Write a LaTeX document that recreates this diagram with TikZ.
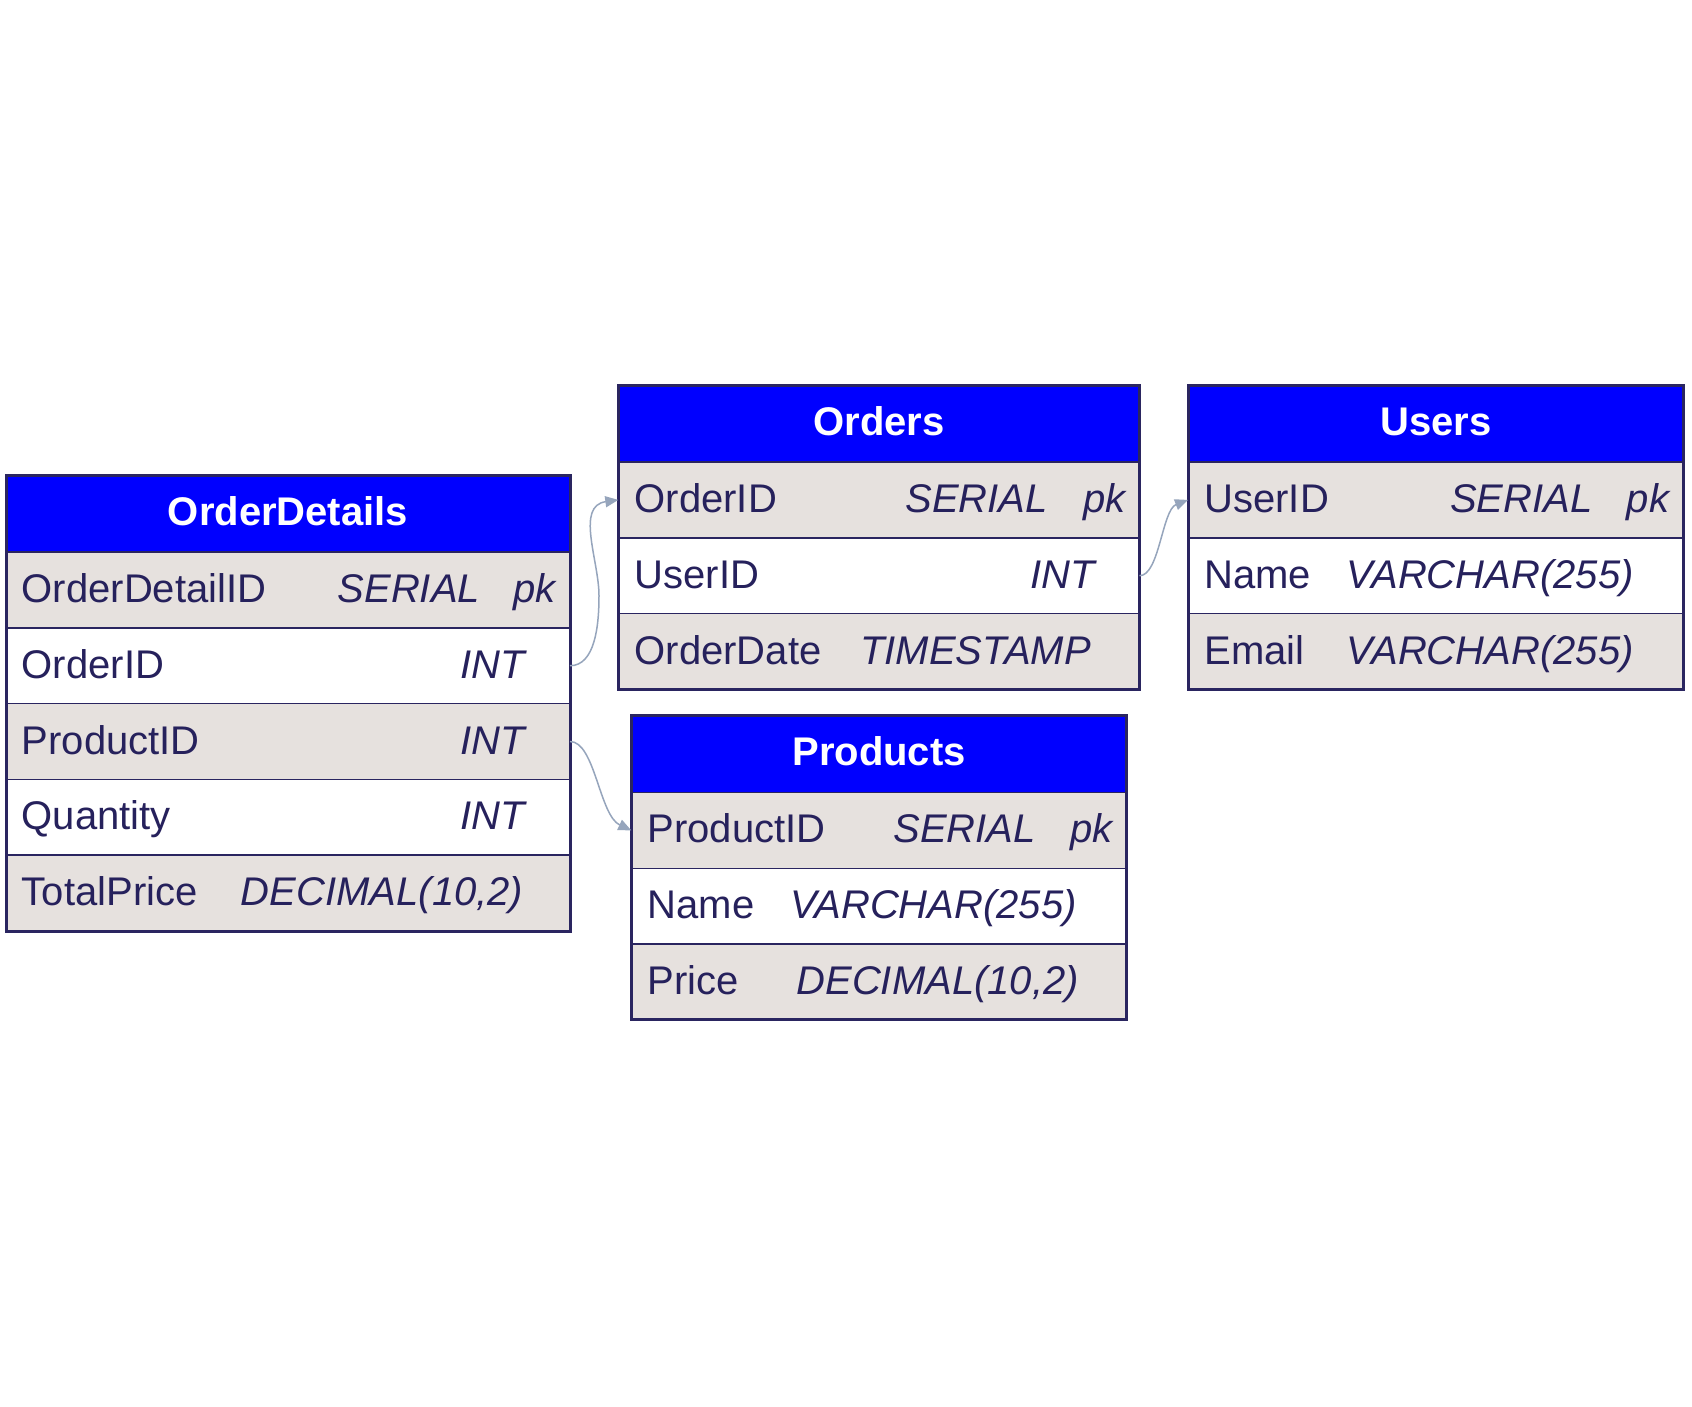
\documentclass[tikz,border=0pt]{standalone}
\usepackage{fontspec}
\setmainfont{Liberation Sans}
\usetikzlibrary{arrows.meta}
\definecolor{navy}{RGB}{38,33,92}
\definecolor{bordc}{RGB}{42,37,96}
\definecolor{rowgray}{RGB}{230,225,222}
\definecolor{hdrblue}{RGB}{0,0,255}
\definecolor{connc}{RGB}{150,165,188}
\begin{document}
\begin{tikzpicture}[x=1pt,y=-1pt,
  hdr/.style={fill=hdrblue,draw=bordc,line width=1.5pt,inner sep=0pt,outer sep=0pt,anchor=north west,minimum height=77pt},
  rowg/.style={fill=rowgray,draw=bordc,line width=1.5pt,inner sep=0pt,outer sep=0pt,anchor=north west,minimum height=75.8pt},
  roww/.style={fill=white,draw=bordc,line width=1.5pt,inner sep=0pt,outer sep=0pt,anchor=north west,minimum height=75.8pt},
  outer/.style={draw=bordc,line width=3pt},
  ttl/.style={text=white,font=\fontsize{40}{48}\selectfont\bfseries,inner sep=0pt,anchor=base},
  fname/.style={text=navy,font=\fontsize{40}{48}\selectfont,inner sep=0pt,anchor=base west},
  ftype/.style={text=navy,font=\fontsize{40}{48}\selectfont\itshape,inner sep=0pt,anchor=base east},
  conn/.style={draw=connc,line width=1.5pt,-{Triangle[length=13pt,width=11pt]}}]
\useasboundingbox (0,0) rectangle (1692,1406);
\fill[white] (0,0) rectangle (1692,1406);

% ---------- OrderDetails ----------
\node[hdr,minimum width=563.5pt] (od-h) at (6.5,475) {};
\node[rowg,minimum width=563.5pt] (od-1) at (6.5,552) {};
\node[roww,minimum width=563.5pt] (od-2) at (6.5,627.8) {};
\node[rowg,minimum width=563.5pt] (od-3) at (6.5,703.6) {};
\node[roww,minimum width=563.5pt] (od-4) at (6.5,779.4) {};
\node[rowg,minimum width=563.5pt] (od-5) at (6.5,855.2) {};
\draw[outer] (od-h.north west) rectangle (od-5.south east);
\node[ttl] (od-t) at (288,525) {OrderDetails};
\node[fname] (od-1n) at (21.6,602.4) {OrderDetailID};
\node[ftype] (od-1t) at (480.2,602.4) {SERIAL};
\node[ftype] (od-1k) at (555.7,602.4) {pk};
\node[fname] (od-2n) at (21.6,678.2) {OrderID};
\node[ftype] (od-2t) at (525.5,678.2) {INT};
\node[fname] (od-3n) at (21.6,754) {ProductID};
\node[ftype] (od-3t) at (525.5,754) {INT};
\node[fname] (od-4n) at (21.6,829.8) {Quantity};
\node[ftype] (od-4t) at (525.5,829.8) {INT};
\node[fname] (od-5n) at (21.6,905.6) {TotalPrice};
\node[ftype] (od-5t) at (523.4,905.6) {DECIMAL(10,2)};

% ---------- Orders ----------
\node[hdr,minimum width=521.2pt] (o-h) at (618.3,385) {};
\node[rowg,minimum width=521.2pt] (o-1) at (618.3,462) {};
\node[roww,minimum width=521.2pt] (o-2) at (618.3,537.8) {};
\node[rowg,minimum width=521.2pt] (o-3) at (618.3,613.6) {};
\draw[outer] (o-h.north west) rectangle (o-3.south east);
\node[ttl] (o-t) at (878.9,435) {Orders};
\node[fname] (o-1n) at (634.5,512.4) {OrderID};
\node[ftype] (o-1t) at (1047.8,512.4) {SERIAL};
\node[ftype] (o-1k) at (1125.5,512.4) {pk};
\node[fname] (o-2n) at (634.5,588.2) {UserID};
\node[ftype] (o-2t) at (1095.3,588.2) {INT};
\node[fname] (o-3n) at (634.5,664) {OrderDate};
\node[ftype] (o-3t) at (1091,664) {TIMESTAMP};

% ---------- Users ----------
\node[hdr,minimum width=495.4pt] (u-h) at (1188,385) {};
\node[rowg,minimum width=495.4pt] (u-1) at (1188,462) {};
\node[roww,minimum width=495.4pt] (u-2) at (1188,537.8) {};
\node[rowg,minimum width=495.4pt] (u-3) at (1188,613.6) {};
\draw[outer] (u-h.north west) rectangle (u-3.south east);
\node[ttl] (u-t) at (1435.7,435) {Users};
\node[fname] (u-1n) at (1204.3,512.4) {UserID};
\node[ftype] (u-1t) at (1592.7,512.4) {SERIAL};
\node[ftype] (u-1k) at (1669.4,512.4) {pk};
\node[fname] (u-2n) at (1204.3,588.2) {Name};
\node[ftype] (u-2t) at (1633.8,588.2) {VARCHAR(255)};
\node[fname] (u-3n) at (1204.3,664) {Email};
\node[ftype] (u-3t) at (1633.8,664) {VARCHAR(255)};

% ---------- Products ----------
\node[hdr,minimum width=495.3pt] (p-h) at (631.3,715.5) {};
\node[rowg,minimum width=495.3pt] (p-1) at (631.3,792.5) {};
\node[roww,minimum width=495.3pt] (p-2) at (631.3,868.3) {};
\node[rowg,minimum width=495.3pt] (p-3) at (631.3,944.1) {};
\draw[outer] (p-h.north west) rectangle (p-3.south east);
\node[ttl] (p-t) at (879,765.5) {Products};
\node[fname] (p-1n) at (647.5,842.9) {ProductID};
\node[ftype] (p-1t) at (1036,842.9) {SERIAL};
\node[ftype] (p-1k) at (1112.6,842.9) {pk};
\node[fname] (p-2n) at (647.5,918.7) {Name};
\node[ftype] (p-2t) at (1077,918.7) {VARCHAR(255)};
\node[fname] (p-3n) at (647.5,994.5) {Price};
\node[ftype] (p-3t) at (1079,994.5) {DECIMAL(10,2)};

% ---------- connectors ----------
\draw[conn] (od-2.east) .. controls +(25,0) and +(0,30) .. ++(29,-70)
  .. controls +(0,-35) and +(-43,6) .. (o-1.west);
\draw[conn] (od-3.east) .. controls +(25,0) and +(-32,-15) .. (p-1.west);
\draw[conn] (o-2.east) .. controls +(20,0) and +(-26,10) .. (u-1.west);
\end{tikzpicture}
\end{document}
